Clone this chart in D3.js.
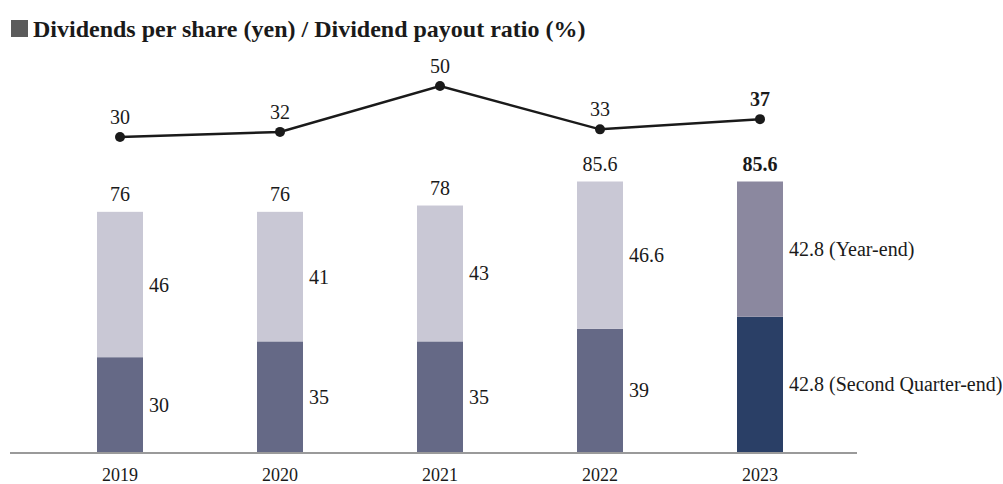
<!DOCTYPE html>
<html>
<head>
<meta charset="utf-8">
<script src="https://cdn.jsdelivr.net/npm/d3@7/dist/d3.min.js"></script>
<style>
  body { margin: 0; background: #fff; }
  text { font-family: "Liberation Serif", "Times New Roman", serif; fill: #1a1a1a; }
</style>
</head>
<body>
<svg id="chart" width="1003" height="484"></svg>
<script>
// data
var years = ["2019", "2020", "2021", "2022", "2023"];
var secondQuarter = [30, 35, 35, 39, 42.8];
var yearEnd = [46, 41, 43, 46.6, 42.8];
var totals = ["76", "76", "78", "85.6", "85.6"];
var payout = [30, 32, 50, 33, 37];
var lowerLabels = ["30", "35", "35", "39", "42.8 (Second Quarter-end)"];
var upperLabels = ["46", "41", "43", "46.6", "42.8 (Year-end)"];

var svg = d3.select("#chart");

// title
svg.append("rect").attr("x", 11).attr("y", 20).attr("width", 17).attr("height", 17).attr("fill", "#5b5b5b");
svg.append("text").attr("x", 33).attr("y", 37)
  .attr("font-size", 24).attr("font-weight", "bold")
  .text("Dividends per share (yen) / Dividend payout ratio (%)");

var baseY = 452;
var x = d3.scaleBand().domain(years).range([40, 840]).paddingInner(0.7125).paddingOuter(0.35625);
var y = d3.scaleLinear().domain([0, 85.6]).range([baseY, 181.5]);
var yLine = d3.scaleLinear().domain([0, 50]).range([213.5, 86]);

var colBottom = function(i) { return i === 4 ? "#2a3f66" : "#656986"; };
var colTop = function(i) { return i === 4 ? "#8b889f" : "#c9c8d5"; };

var g = svg.append("g");

// bars
years.forEach(function(yr, i) {
  var b = secondQuarter[i], t = yearEnd[i];
  g.append("rect").attr("x", x(yr)).attr("width", x.bandwidth())
    .attr("y", y(b)).attr("height", baseY - y(b)).attr("fill", colBottom(i));
  g.append("rect").attr("x", x(yr)).attr("width", x.bandwidth())
    .attr("y", y(b + t)).attr("height", y(b) - y(b + t)).attr("fill", colTop(i));

  // segment labels
  g.append("text").attr("x", x(yr) + x.bandwidth() + 6).attr("y", (y(b) + baseY) / 2)
    .attr("dy", "0.35em").attr("font-size", 20).text(lowerLabels[i]);
  g.append("text").attr("x", x(yr) + x.bandwidth() + 6).attr("y", (y(b) + y(b + t)) / 2)
    .attr("dy", "0.35em").attr("font-size", 20).text(upperLabels[i]);

  // totals
  g.append("text").attr("x", x(yr) + x.bandwidth() / 2).attr("y", y(b + t) - 11)
    .attr("text-anchor", "middle").attr("font-size", 20)
    .attr("font-weight", i === 4 ? "bold" : "normal").text(totals[i]);
});

// axis
var xAxis = svg.append("g").attr("transform", "translate(0," + (baseY + 1) + ")")
  .call(d3.axisBottom(x).tickSize(0).tickPadding(15));
xAxis.select(".domain").attr("d", "M10,0H857").attr("stroke", "#9a9a9a").attr("stroke-width", 2);
xAxis.selectAll("text").attr("font-size", 18).attr("fill", "#1a1a1a")
  .attr("font-family", "Liberation Serif, serif");

// payout line
var cx = function(i) { return x(years[i]) + x.bandwidth() / 2; };
var line = d3.line().x(function(d, i) { return cx(i); }).y(function(d) { return yLine(d); });
g.append("path").datum(payout).attr("d", line)
  .attr("fill", "none").attr("stroke", "#1a1a1a").attr("stroke-width", 2.5);
g.selectAll("circle.pt").data(payout).enter().append("circle")
  .attr("cx", function(d, i) { return cx(i); }).attr("cy", function(d) { return yLine(d); })
  .attr("r", 5).attr("fill", "#1a1a1a");
g.selectAll("text.pl").data(payout).enter().append("text")
  .attr("x", function(d, i) { return cx(i); }).attr("y", function(d) { return yLine(d) - 13; })
  .attr("text-anchor", "middle").attr("font-size", 20)
  .attr("font-weight", function(d, i) { return i === 4 ? "bold" : "normal"; })
  .text(function(d) { return d; });
</script>
</body>
</html>
